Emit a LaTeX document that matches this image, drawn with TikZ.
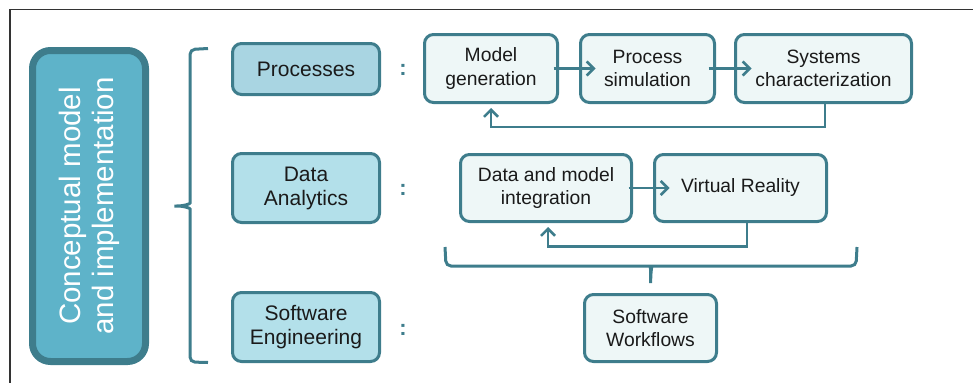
\documentclass[tikz,border=0pt]{standalone}
\usepackage{fontspec}
\setmainfont{Liberation Sans}
\usetikzlibrary{arrows.meta}
\definecolor{tealline}{HTML}{3E7D8C}
\definecolor{bigfill}{HTML}{5EB3C9}
\definecolor{procfill}{HTML}{A9D5E2}
\definecolor{catfill}{HTML}{B3E0EA}
\definecolor{stepfill}{HTML}{EEF7F7}
\definecolor{txt}{HTML}{1A1A1A}
\definecolor{frame}{HTML}{333333}
\begin{document}
\begin{tikzpicture}[x=1pt,y=-1pt,
  bigbox/.style={draw=tealline, fill=bigfill, line width=7pt, rounded corners=18pt,
    minimum width=113pt, minimum height=311pt, inner sep=0pt},
  catbox/.style={draw=tealline, fill=catfill, line width=3pt, rounded corners=9pt,
    minimum width=147pt, minimum height=69pt, align=center, text=txt,
    font=\fontsize{21}{24}\selectfont, inner sep=0pt},
  stepbox/.style={draw=tealline, fill=stepfill, line width=3pt, rounded corners=9pt,
    minimum height=68pt, align=center, text=txt,
    font=\fontsize{19.3}{23.5}\selectfont, inner sep=0pt},
  colon/.style={text=tealline, font=\fontsize{22}{24}\selectfont\bfseries, inner sep=0pt},
  link/.style={draw=tealline, line width=2.5pt, -{Straight Barb[length=7pt,width=14pt,line width=2.5pt]}},
  bracel/.style={draw=tealline, line width=3pt},
]
\useasboundingbox (0,0) rectangle (973,383);
% frame
\draw[frame, line width=1.3pt] (973,9.5) -- (10,9.5) -- (10,383);

% big box
\node[bigbox] (big) at (89,206) {};
\node[rotate=90, text=white, align=center, font=\fontsize{29.5}{33}\selectfont] (bigtxt) at (89,206)
  {Conceptual model\\and implementation};

% categories
\node[catbox, fill=procfill, minimum height=51pt] (proc) at (306,69) {Processes};
\node[catbox] (da) at (306,188) {Data\\Analytics};
\node[catbox] (se) at (306,327) {Software\\Engineering};

% colons
\node[colon] (c1) at (403,70) {:};
\node[colon] (c2) at (403,190) {:};
\node[colon] (c3) at (403,330) {:};

% left brace
\coordinate (ltip) at ([xshift=22.5pt]big.east);
\draw[bracel, rounded corners=5pt] (208,48.5) -- (190,49.5) -- (190,198)
  .. controls (190,204) and (184,206) .. (ltip)
  .. controls (184,206) and (190,208) .. (190,214) -- (190,362) -- (208,362.5);

% row 1
\node[stepbox, minimum width=133pt] (mg) at (491,68.5) {Model\\generation};
\node[stepbox, minimum width=134pt] (ps) at (647.5,68.5) {Process\\simulation};
\node[stepbox, minimum width=176pt] (sc) at (823.5,68.5) {Systems\\characterization};
\draw[link] ([xshift=-5.5pt]mg.east) -- ([xshift=16.5pt]ps.west);
\draw[link] ([xshift=-7.5pt]ps.east) -- ([xshift=17.5pt]sc.west);
\draw[link, shorten >=4pt] ([xshift=1.5pt]sc.south) -- ++(0,23) -| (mg.south);

% row 2
\node[stepbox, minimum width=171pt, minimum height=67pt] (dmi) at (546,188) {Data and model\\integration};
\node[stepbox, minimum width=172pt, minimum height=67pt] (vr) at (740.5,188) {Virtual Reality};
\draw[link] ([xshift=-4.5pt]dmi.east) -- ([xshift=16.5pt]vr.west);
\draw[link, shorten >=4pt] ([xshift=6.5pt]vr.south) -- ++(0,23.5) -| ([xshift=2pt]dmi.south);

% row 3
\node[stepbox, minimum width=132pt, minimum height=67pt] (sw) at (650.5,328) {Software\\Workflows};

% bottom brace
\coordinate (btip) at ([yshift=7pt]sw.north);
\draw[bracel, rounded corners=5pt] (445,247) -- (446,266) -- (645,266)
  .. controls (650,266) and (651,268) .. (btip)
  .. controls (651,268) and (652,266) .. (657,266) -- (856,266) -- (857,247);
\end{tikzpicture}
\end{document}
